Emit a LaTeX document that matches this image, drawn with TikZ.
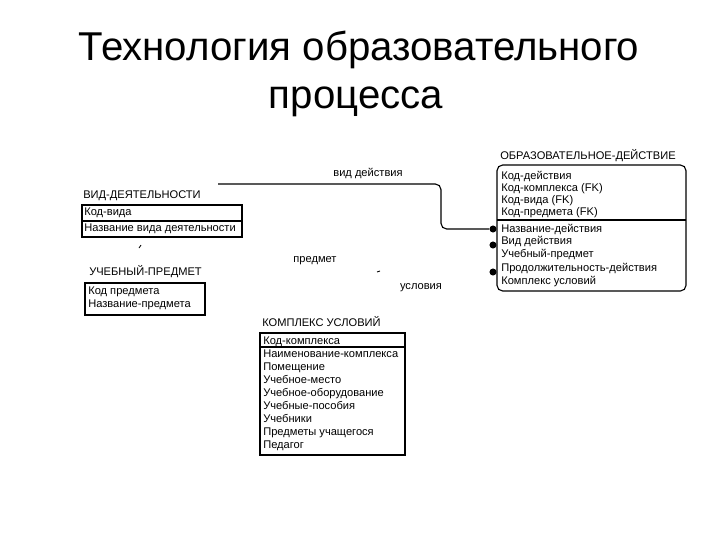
\documentclass[tikz,border=0pt]{standalone}
\usepackage{fontspec}
\setmainfont{Liberation Sans}
\tikzset{>=latex}
\tikzset{
  heading/.style = {anchor=base,inner sep=0pt,font=\fontsize{28.6}{34}\selectfont},
  ename/.style   = {anchor=base west,inner sep=0pt,font=\fontsize{7.9}{10}\selectfont},
  attr/.style    = {anchor=base west,inner sep=0pt,font=\fontsize{7.9}{10}\selectfont},
  relname/.style = {anchor=base,inner sep=0pt,font=\fontsize{7.9}{10}\selectfont},
  ebox/.style    = {draw,line width=0.8pt},
  rel/.style     = {line width=0.8pt,rounded corners=4pt},
  pin/.style     = {circle,fill,inner sep=0pt,minimum size=5pt}
}

\begin{document}
\begin{tikzpicture}[x=0.025cm,y=-0.025cm]
  \useasboundingbox (0,0) rectangle (720,540);
  \node[heading] (head1) at (359,60) {Технология образовательного};
  \node[heading] (head2) at (356,108) {процесса};

  % ОБРАЗОВАТЕЛЬНОЕ-ДЕЙСТВИЕ
  \node[ename] (odname) at (500,159) {ОБРАЗОВАТЕЛЬНОЕ-ДЕЙСТВИЕ};
  \draw[ebox,rounded corners=4pt] (497,165) rectangle (686,291);
  \draw[ebox] (497,220) -- (686,220);
  \node[attr] at (501,179) {Код-действия};
  \node[attr] at (501,191) {Код-комплекса (FK)};
  \node[attr] at (501,203) {Код-вида (FK)};
  \node[attr] at (501,215) {Код-предмета (FK)};
  \node[attr] at (501,232) {Название-действия};
  \node[attr] at (501,244) {Вид действия};
  \node[attr] at (501,257) {Учебный-предмет};
  \node[attr] at (501,271) {Продолжительность-действия};
  \node[attr] at (501,284) {Комплекс условий};

  % ВИД-ДЕЯТЕЛЬНОСТИ
  \node[ename] (vdname) at (83,198) {ВИД-ДЕЯТЕЛЬНОСТИ};
  \draw[ebox] (82,205) rectangle (242,237);
  \draw[ebox] (82,221) -- (242,221);
  \node[attr] at (84,215) {Код-вида};
  \node[attr] at (84,231) {Название вида деятельности};

  % УЧЕБНЫЙ-ПРЕДМЕТ
  \node[ename] (upname) at (89,275) {УЧЕБНЫЙ-ПРЕДМЕТ};
  \draw[ebox] (85,283) rectangle (205,315);
  \node[attr] at (88,294) {Код предмета};
  \node[attr] at (88,307) {Название-предмета};

  % КОМПЛЕКС УСЛОВИЙ
  \node[ename] (kuname) at (262,326) {КОМПЛЕКС УСЛОВИЙ};
  \draw[ebox] (260,333) rectangle (405,455);
  \draw[ebox] (260,347) -- (405,347);
  \node[attr] at (263,344) {Код-комплекса};
  \node[attr] at (263,357) {Наименование-комплекса};
  \node[attr] at (263,370) {Помещение};
  \node[attr] at (263,383) {Учебное-место};
  \node[attr] at (263,396) {Учебное-оборудование};
  \node[attr] at (263,409) {Учебные-пособия};
  \node[attr] at (263,422) {Учебники};
  \node[attr] at (263,435) {Предметы учащегося};
  \node[attr] at (263,448) {Педагог};

  % связи
  \node[pin] (pvid) at (493,229) {};
  \node[pin] (ppred) at (493,245) {};
  \node[pin] (pusl) at (493,272) {};
  \coordinate (vdstart) at (218,184);
  \draw[rel] (vdstart) -- (441,184) -- (441,229) -- (pvid);
  \node[relname] (lvid) at (368,176) {вид действия};
  \node[relname] (lpred) at (315,262) {предмет};
  \node[relname] (lusl) at (421,289) {условия};
  \draw[line width=0.6pt] (139,248) -- (141,245);
  \draw[line width=0.6pt] (377,272) -- (380,271);
\end{tikzpicture}
\end{document}
